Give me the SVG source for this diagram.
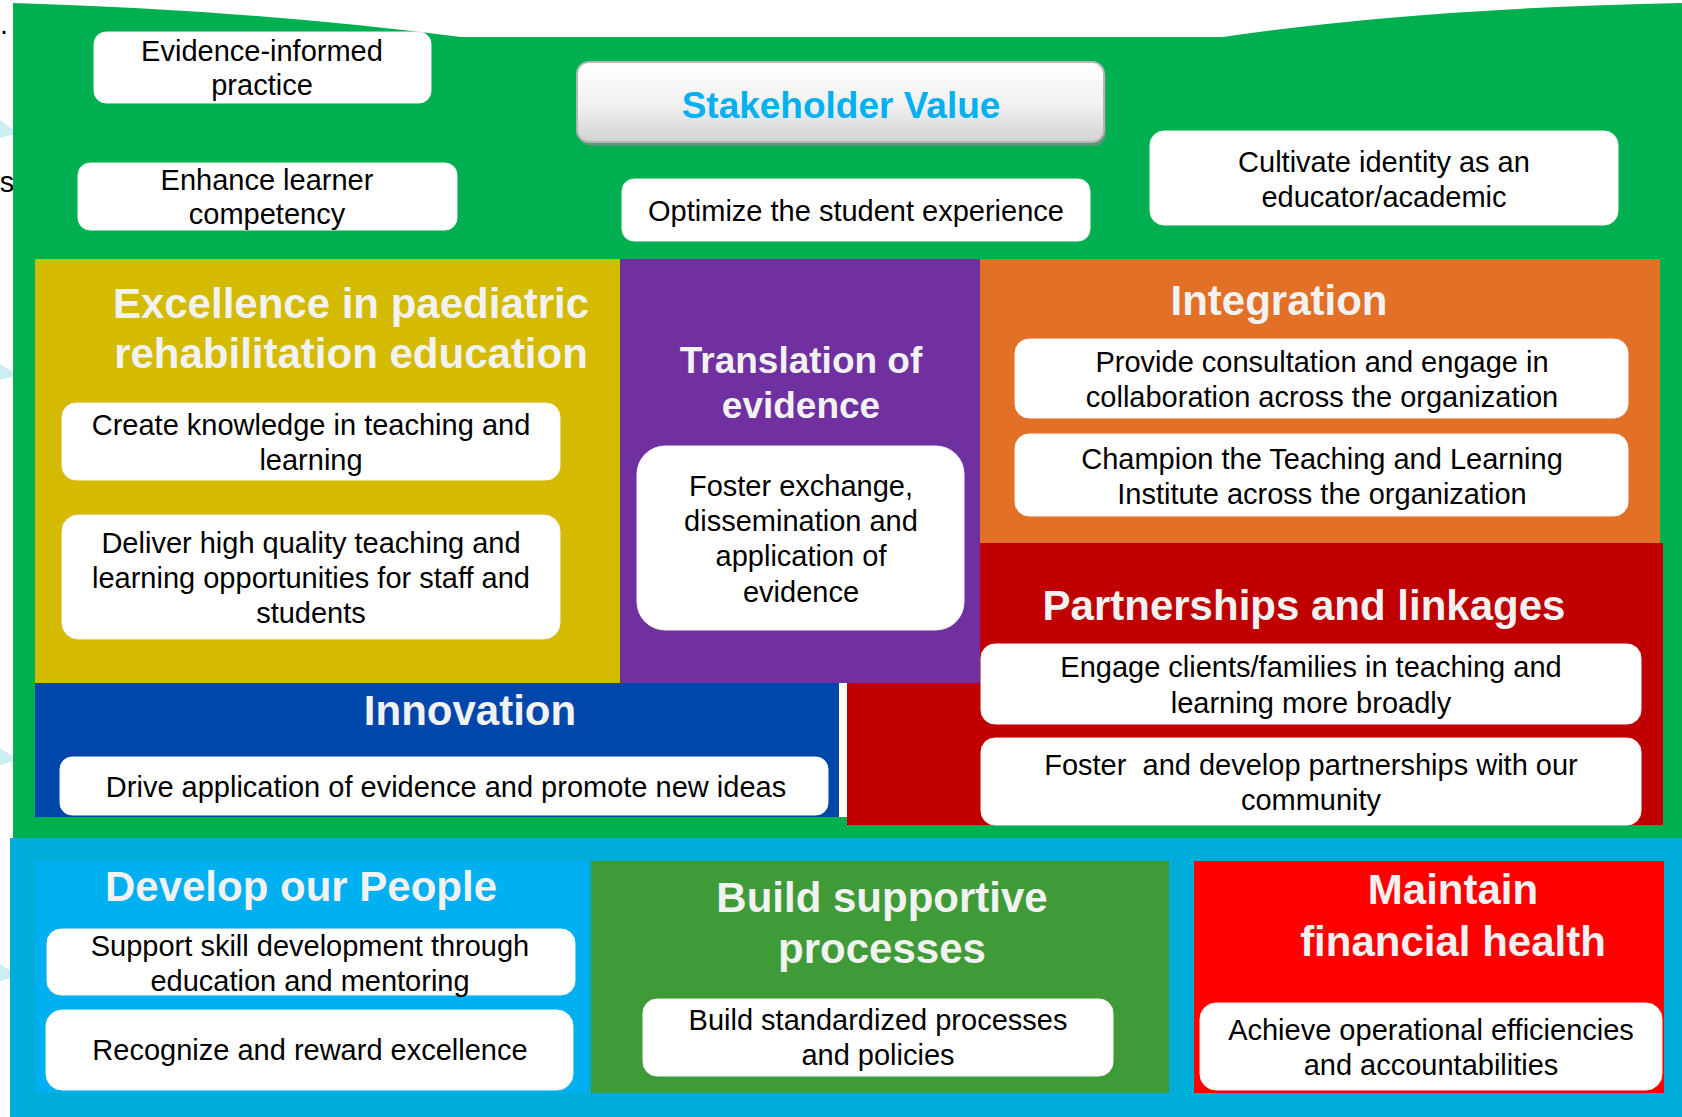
<svg xmlns="http://www.w3.org/2000/svg" width="1682" height="1117" viewBox="0 0 1682 1117">
<style>
text{font-family:"Liberation Sans",Arial,sans-serif;text-anchor:middle}
.b{font-size:29px;fill:#000}
.t{font-size:42px;font-weight:bold;fill:#F2F2F2}
.t37{font-size:37px;font-weight:bold;fill:#F2F2F2}
.box{fill:#fff;stroke:#f4f4f4;stroke-width:1}
.frag{fill:#cdeef0}
</style>
<defs>
<linearGradient id="sv" x1="0" y1="0" x2="0" y2="1">
<stop offset="0" stop-color="#ffffff"/>
<stop offset="0.55" stop-color="#f0f0f0"/>
<stop offset="1" stop-color="#d2d2d2"/>
</linearGradient>
</defs>
<rect width="1682" height="1117" fill="#fff"/>
<g id="edge-fragments">
<path class="frag" d="M0,120 L18,133 L0,138 Z"/>
<path class="frag" d="M0,364 L18,375 L0,380 Z"/>
<path class="frag" d="M0,748 L18,760 L0,765 Z"/>
<path class="frag" d="M0,964 L18,976 L0,981 Z"/>
<text x="4" y="34" style="font-size:29px;fill:#000">.</text>
<text x="7" y="192" style="font-size:29px;fill:#000">s</text>
</g>
<g id="background">
<path d="M13,3 Q250,10 461,37 L1223,37 Q1420,8 1682,3 L1682,838 L13,838 Z" fill="#00B050"/>
<rect x="10" y="838" width="1672" height="279" fill="#00ADD8"/>
</g>
<g id="evidence-informed">
<rect class="box" x="94" y="32" width="337" height="71" rx="12"/>
<text class="b" x="262" y="61">Evidence-informed</text>
<text class="b" x="262" y="95">practice</text>
</g>
<g id="enhance-learner">
<rect class="box" x="78" y="163" width="379" height="67" rx="12"/>
<text class="b" x="267" y="190">Enhance learner</text>
<text class="b" x="267" y="224">competency</text>
</g>
<g id="stakeholder-value">
<rect x="579" y="66" width="527" height="80" rx="12" fill="#8c8c8c" opacity="0.6"/>
<rect x="577" y="62" width="527" height="80" rx="12" fill="url(#sv)" stroke="#b5b5b5" stroke-width="2"/>
<text x="841" y="118" style="font-size:37px;font-weight:bold;fill:#00B0F0">Stakeholder Value</text>
</g>
<g id="optimize">
<rect class="box" x="622" y="179" width="468" height="62" rx="12"/>
<text class="b" x="856" y="221">Optimize the student experience</text>
</g>
<g id="cultivate">
<rect class="box" x="1150" y="131" width="468" height="94" rx="14"/>
<text class="b" x="1384" y="172">Cultivate identity as an</text>
<text class="b" x="1384" y="207">educator/academic</text>
</g>
<g id="excellence">
<rect x="35" y="259" width="585" height="424" fill="#D4BA00"/>
<text class="t" x="351" y="318">Excellence in paediatric</text>
<text class="t" x="351" y="368">rehabilitation education</text>
<rect class="box" x="62" y="403" width="498" height="77" rx="14"/>
<text class="b" x="311" y="435">Create knowledge in teaching and</text>
<text class="b" x="311" y="470">learning</text>
<rect class="box" x="62" y="515" width="498" height="124" rx="16"/>
<text class="b" x="311" y="553">Deliver high quality teaching and</text>
<text class="b" x="311" y="588">learning opportunities for staff and</text>
<text class="b" x="311" y="623">students</text>
</g>
<g id="translation">
<rect x="620" y="259" width="360" height="424" fill="#7030A0"/>
<text class="t37" x="801" y="373">Translation of</text>
<text class="t37" x="801" y="418">evidence</text>
<rect class="box" x="637" y="446" width="327" height="184" rx="28"/>
<text class="b" x="801" y="496">Foster exchange,</text>
<text class="b" x="801" y="531">dissemination and</text>
<text class="b" x="801" y="566">application of</text>
<text class="b" x="801" y="602">evidence</text>
</g>
<g id="integration">
<rect x="980" y="259" width="680" height="285" fill="#E27026"/>
<text class="t" x="1279" y="315">Integration</text>
<rect class="box" x="1015" y="339" width="613" height="79" rx="14"/>
<text class="b" x="1322" y="372">Provide consultation and engage in</text>
<text class="b" x="1322" y="407">collaboration across the organization</text>
<rect class="box" x="1015" y="434" width="613" height="82" rx="14"/>
<text class="b" x="1322" y="469">Champion the Teaching and Learning</text>
<text class="b" x="1322" y="504">Institute across the organization</text>
</g>
<g id="partnerships">
<path d="M980,543 L1663,543 L1663,825 L847,825 L847,683 L980,683 Z" fill="#C00000"/>
<text class="t" x="1304" y="620">Partnerships and linkages</text>
<rect class="box" x="981" y="644" width="660" height="80" rx="14"/>
<text class="b" x="1311" y="677">Engage clients/families in teaching and</text>
<text class="b" x="1311" y="713">learning more broadly</text>
<rect class="box" x="981" y="738" width="660" height="87" rx="14"/>
<text class="b" x="1311" y="775">Foster&#160; and develop partnerships with our</text>
<text class="b" x="1311" y="810">community</text>
</g>
<g id="innovation">
<rect x="839" y="683" width="8" height="134" fill="#fff"/>
<rect x="35" y="683" width="804" height="134" fill="#0047AB"/>
<text class="t" x="470" y="725">Innovation</text>
<rect class="box" x="60" y="757" width="768" height="58" rx="12"/>
<text class="b" x="446" y="797">Drive application of evidence and promote new ideas</text>
</g>
<g id="develop-people">
<rect x="35" y="861" width="553" height="232" fill="#00B0F0"/>
<text class="t" x="301" y="901">Develop our People</text>
<rect class="box" x="47" y="929" width="528" height="66" rx="14"/>
<text class="b" x="310" y="956">Support skill development through</text>
<text class="b" x="310" y="991">education and mentoring</text>
<rect class="box" x="46" y="1010" width="527" height="80" rx="16"/>
<text class="b" x="310" y="1060">Recognize and reward excellence</text>
</g>
<g id="build-processes">
<rect x="591" y="861" width="578" height="232" fill="#3F9B37"/>
<text class="t" x="882" y="912">Build supportive</text>
<text class="t" x="882" y="963">processes</text>
<rect class="box" x="643" y="999" width="470" height="77" rx="14"/>
<text class="b" x="878" y="1030">Build standardized processes</text>
<text class="b" x="878" y="1065">and policies</text>
</g>
<g id="financial-health">
<rect x="1194" y="861" width="470" height="232" fill="#FF0000"/>
<text class="t" x="1453" y="904">Maintain</text>
<text class="t" x="1453" y="956">financial health</text>
<rect class="box" x="1200" y="1003" width="462" height="87" rx="16"/>
<text class="b" x="1431" y="1040">Achieve operational efficiencies</text>
<text class="b" x="1431" y="1075">and accountabilities</text>
</g>
<g id="connectors"/>
</svg>
